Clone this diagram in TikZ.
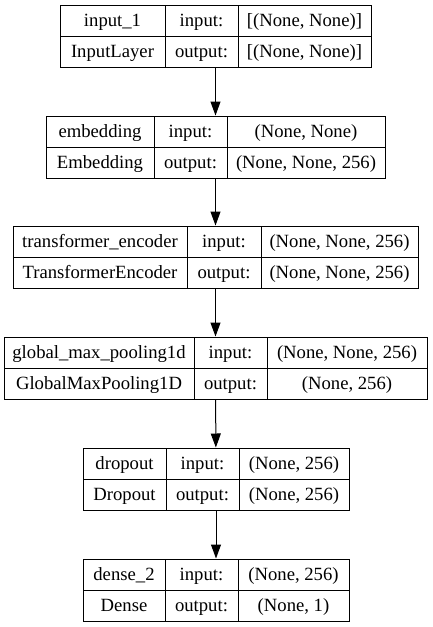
\documentclass[tikz,border=0pt]{standalone}
\usepackage{fontspec}
\setmainfont{Liberation Serif}
\usetikzlibrary{arrows.meta}
\begin{document}
\begin{tikzpicture}[x=1pt,y=-1pt,
  layerbox/.style={draw=black,line width=1pt,inner sep=0pt,minimum height=62pt},
  cell/.style={inner sep=0pt,anchor=base,font=\rmfamily\fontsize{18.67}{22}\selectfont},
  gridline/.style={draw=black,line width=1pt},
  flow/.style={draw=black,line width=1pt,-{Triangle[length=14pt,width=10pt]}}]
\useasboundingbox (0,0) rectangle (433,627);
\foreach \n/\xl/\xa/\xb/\xr/\yt/\la/\cl/\ia/\oa in {
 b1/60/165/238/371/5/{input\_1}/{InputLayer}/{[(None, None)]}/{[(None, None)]},
 b2/46/154/227/385/116/{embedding}/{Embedding}/{(None, None)}/{(None, None, 256)},
 b3/13/187/261/418/226/{transformer\_encoder}/{TransformerEncoder}/{(None, None, 256)}/{(None, None, 256)},
 b4/4/194/267/427/337/{global\_max\_pooling1d}/{GlobalMaxPooling1D}/{(None, None, 256)}/{(None, 256)},
 b5/83/166/239/349/448/{dropout}/{Dropout}/{(None, 256)}/{(None, 256)},
 b6/83/165/238/349/559/{dense\_2}/{Dense}/{(None, 256)}/{(None, 1)}}
{
  \node[layerbox, minimum width={(\xr-\xl)*1pt}] (\n) at ({(\xl+\xr)/2},{\yt+31}) {};
  \draw[gridline] (\xl,\yt+31) -- (\xr,\yt+31);
  \draw[gridline] (\xa,\yt) -- (\xa,\yt+62);
  \draw[gridline] (\xb,\yt) -- (\xb,\yt+62);
  \node[cell] (\n-name) at ({(\xl+\xa)/2},{\yt+21.5}) {\la};
  \node[cell] (\n-class) at ({(\xl+\xa)/2},{\yt+52.5}) {\cl};
  \node[cell] (\n-inl) at ({(\xa+\xb)/2},{\yt+21.5}) {input:};
  \node[cell] (\n-outl) at ({(\xa+\xb)/2},{\yt+52.5}) {output:};
  \node[cell] (\n-in) at ({(\xb+\xr)/2},{\yt+21.5}) {\ia};
  \node[cell] (\n-out) at ({(\xb+\xr)/2},{\yt+52.5}) {\oa};
}
\draw[flow] (b1) -- (b2);
\draw[flow] (b2) -- (b3);
\draw[flow] (b3) -- (b4);
\draw[flow] (b4) -- (b5);
\draw[flow] (b5) -- (b6);
\end{tikzpicture}
\end{document}
